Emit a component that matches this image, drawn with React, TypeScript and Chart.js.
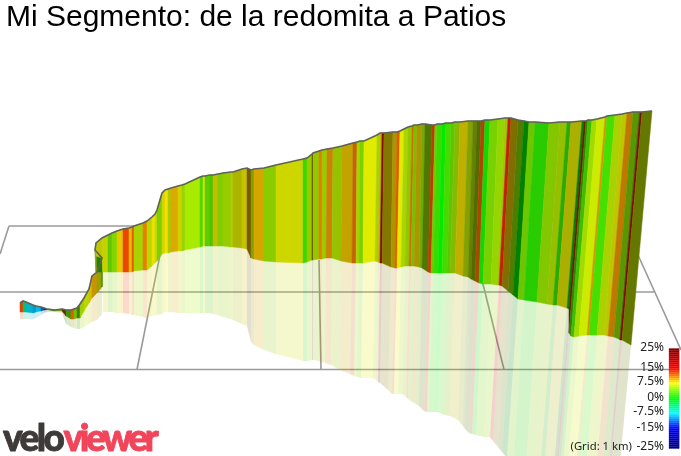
import React, { useEffect, useRef } from "react";
import { Chart, registerables } from "chart.js";

Chart.register(...registerables);

const chartTitle = "Mi Segmento: de la redomita a Patios";

// Profile, one entry per gradient-strip boundary.
const ridgeX = [
  20, 23, 26, 33, 36, 41, 44, 47, 55, 62,
  66, 71, 74, 77, 80, 84, 89, 92, 97, 102,
  102, 95, 96, 102, 102, 108, 112, 117, 123, 129,
  132, 134, 143, 147, 152, 155, 157, 162, 165, 168,
  171, 178, 182, 185, 200, 203, 205, 210, 213, 218,
  223, 231, 233, 242, 247, 251, 254, 264, 276, 303,
  307, 312, 313, 319, 322, 327, 333, 342, 353, 357,
  360, 364, 377, 380, 382, 384, 393, 397, 400, 404,
  408, 412, 414, 417, 422, 425, 432, 435, 437, 442,
  446, 451, 455, 460, 468, 473, 477, 481, 485, 490,
  498, 505, 508, 511, 518, 524, 529, 535, 549, 560,
  567, 571, 582, 584, 586, 588, 592, 597, 605, 607,
  615, 622, 627, 633, 638, 640, 642, 652,
];
const ridgeY = [
  303, 301, 302, 305, 306, 307, 308, 309, 310, 309,
  310, 310, 309, 308, 304, 298, 289, 276, 272, 258,
  258, 250, 243, 238, 238, 235, 233, 231, 229, 228,
  227, 226, 223, 221, 217, 214, 210, 193, 190, 189,
  188, 186, 185, 184, 177, 176, 176, 175, 175, 174,
  173, 172, 172, 169, 168, 170, 169, 168, 165, 159,
  158, 154, 153, 151, 150, 149, 148, 146, 143, 142,
  141, 141, 135, 133, 133, 133, 132, 132, 131, 129,
  127, 126, 125, 125, 124, 124, 125, 125, 124, 124,
  123, 123, 122, 122, 121, 121, 121, 121, 120, 120,
  119, 118, 118, 118, 120, 121, 122, 122, 123, 122,
  122, 122, 121, 121, 121, 120, 120, 119, 117, 116,
  115, 114, 113, 112, 112, 112, 112, 111,
];
const footX = [
  20, 23, 26, 33, 36, 41, 44, 47, 55, 62,
  66, 71, 74, 77, 80, 84, 89, 92, 97, 102,
  102, 96, 96, 102, 103, 108, 112, 117, 123, 129,
  132, 134, 143, 147, 152, 155, 157, 162, 165, 168,
  171, 178, 182, 185, 200, 203, 205, 210, 213, 218,
  223, 231, 233, 242, 247, 251, 254, 264, 276, 303,
  307, 312, 313, 319, 322, 326, 332, 341, 352, 356,
  359, 363, 375, 378, 380, 382, 391, 395, 397, 401,
  405, 409, 411, 414, 419, 422, 428, 431, 433, 438,
  442, 447, 450, 455, 463, 468, 471, 475, 479, 483,
  491, 497, 499, 502, 508, 513, 518, 524, 537, 547,
  553, 557, 567, 569, 569, 571, 574, 579, 587, 589,
  597, 604, 608, 614, 619, 620, 622, 631,
];
const footY = [
  312, 312, 312, 313, 312, 311, 310, 309.5, 311, 311,
  316, 319, 319, 318, 318, 311, 303, 298, 293, 287,
  272, 272, 256, 258, 272, 272, 272, 272, 272, 272,
  272, 271, 270, 270, 266, 263, 261, 254, 253, 253,
  252, 251, 251, 250, 247, 246, 246, 246, 246, 246,
  246, 247, 247, 248, 249, 258, 259, 261, 262, 263,
  262, 260, 260, 259, 259, 258, 258, 261, 263, 263,
  263, 263, 261, 262, 263, 263, 267, 268, 268, 267,
  266, 266, 266, 266, 267, 268, 272, 273, 273, 273,
  273, 273, 273, 273, 276, 277, 279, 281, 283, 284,
  284, 285, 285, 286, 291, 295, 299, 300, 302, 304,
  305, 305, 308, 309, 333, 336, 337, 336, 335, 335,
  335, 335, 336, 337, 339, 340, 340, 345,
];
const mirrorX = [
  20, 23, 26, 33, 36, 41, 44, 47, 55, 62,
  66, 71, 74, 77, 80, 84, 89, 92, 97, 102,
  102, 96, 96, 102, 103, 108, 112, 117, 123, 129,
  132, 134, 143, 147, 152, 155, 157, 162, 165, 168,
  171, 178, 182, 185, 200, 203, 205, 210, 213, 218,
  223, 231, 233, 242, 247, 251, 254, 264, 276, 303,
  307, 312, 313, 319, 322, 325, 331, 340, 350, 354,
  357, 361, 373, 376, 378, 380, 388, 392, 394, 398,
  402, 406, 408, 411, 416, 419, 424, 427, 429, 434,
  438, 442, 445, 450, 458, 463, 465, 469, 472, 476,
  484, 489, 490, 493, 498, 502, 507, 513, 525, 534,
  539, 543, 552, 554, 552, 554, 556, 561, 569, 571,
  579, 586, 589, 595, 600, 601, 602, 610,
];
const mirrorY = [
  319, 319, 319, 319, 318, 315, 313, 312, 312, 313,
  324, 327, 328, 329, 329, 327, 324, 322, 320, 314,
  272, 272, 256, 258, 312, 312, 312, 313, 313, 314,
  315, 315, 317, 318, 316, 315, 315, 314, 312, 312,
  312, 313, 313, 313, 313, 313, 313, 313, 314, 315,
  317, 319, 320, 324, 326, 342, 345, 350, 354, 361,
  361, 360, 360, 361, 362, 363, 365, 370, 374, 376,
  377, 378, 378, 380, 382, 383, 390, 394, 394, 394,
  394, 397, 399, 401, 404, 406, 411, 412, 412, 412,
  412, 414, 415, 416, 420, 426, 429, 433, 434, 435,
  437, 437, 437, 441, 447, 452, 458, 470, 480, 482,
  484, 485, 490, 492, 540, 545, 545, 545, 545, 545,
  550, 550, 552, 555, 560, 560, 562, 570,
];

// One gradient and one lighting value per strip between two boundaries.
const stripGrade = [
  13, -3.75, -8.25, -9.9, -8.5, -11.6, -13.1, 2, 5.3, 12,
  3, 12.1, 4.7, 3.5, 5.7, 6.6, 8.2, 9.4, 7, 0,
  1.7, 7.5, 7.1, 7, 7.1, 3.75, 4.5, 8.5, 12.8, 8.8,
  12.1, 6.1, 10.8, 6.6, 7.8, 6.8, 4.8, 7.3, 8.4, 6.4,
  9.2, 7.5, 5.2, 5.4, 2.8, 7.3, 3.3, 3.1, 7.5, 4.8,
  5.5, 6.6, 7.1, 7.7, 9.4, 6.1, 9.2, 5.1, 7.2, 2.1,
  5.5, 9.75, 5.6, 10.9, 5.5, 10.2, 5.8, 8.7, 11.25, 6.1,
  4.3, 7.2, 6.1, 7.9, 14.4, 8.1, 8.4, 12, 7.2, 5.9,
  5.6, 11.1, 4.7, 8.4, 4.9, 5, 12.6, 4.5, 2, 0,
  2.4, 3.4, 5.3, 8.1, 6.1, 5.8, 5.5, 11.9, 0.7, 4.3,
  5.2, 6, 13.9, 8.7, 4.8, 0, 4.1, 1.5, 4.9, 5.9,
  1.8, 7.3, 0, 13, 2.9, 2.4, 5.5, 6.5, 9.9, 2.3,
  6.1, 7.1, 10.3, 4.5, 3.75, 14.4, 6.25,
];
const stripLight = [
  0.9, 0.78, 0.78, 0.86, 0.86, 0.78, 0.47, 0.59, 0.67, 0.39,
  0.59, 0.9, 0.75, 0.51, 0.82, 0.84, 0.82, 0.78, 0.63, 0.5,
  0.51, 0.67, 0.78, 0.8, 0.82, 0.78, 0.84, 0.9, 0.92, 0.9,
  0.92, 0.82, 0.9, 0.84, 0.92, 0.86, 0.8, 0.84, 0.98, 0.78,
  0.86, 0.82, 0.84, 0.92, 0.84, 0.88, 0.8, 0.76, 0.75, 0.8,
  0.8, 0.8, 0.71, 0.78, 0.47, 0.63, 0.84, 0.8, 0.84, 0.84,
  0.8, 0.39, 0.78, 0.9, 0.8, 0.8, 0.76, 0.76, 0.78, 0.82,
  0.82, 0.92, 0.82, 0.75, 0.51, 0.51, 0.67, 0.88, 0.92, 0.84,
  0.78, 0.82, 0.75, 0.67, 0.67, 0.47, 0.75, 0.78, 0.86, 0.92,
  0.86, 0.78, 0.73, 0.75, 0.63, 0.51, 0.43, 0.67, 0.84, 0.82,
  0.84, 0.78, 0.78, 0.51, 0.49, 0.51, 0.78, 0.8, 0.78, 0.75,
  0.67, 0.69, 0.51, 0.43, 0.51, 0.75, 0.86, 0.92, 0.86, 0.88,
  0.82, 0.78, 0.75, 0.59, 0.55, 0.51, 0.47,
];

// Floor grid, each as [x0, y0, x1, y1].
const gridSegments = [
  [0, 254, 9, 226],
  [9, 226, 165, 226],
  [0, 292, 654, 292],
  [0, 369.5, 672, 369.5],
  [638, 255, 681, 350],
  [137, 369.5, 160, 255],
  [321, 369.5, 319, 260],
  [504, 369.5, 482, 280],
];

const legendGrades = [
  25, 24, 23, 22, 21, 20, 19, 18, 17, 16, 15, 14, 13, 12, 11, 10, 9, 8, 7, 6, 5, 4, 3, 2, 1, 0,
  -1, -2, -3, -4, -5, -6, -7, -8, -9, -10, -11, -12, -13, -14, -15, -16, -17, -18, -19, -20, -21, -22, -23, -24,
];
const legendLabels = ["25%", "15%", "7.5%", "0%", "-7.5%", "-15%", "-25%"];
const legendLabelY = [347.5, 368, 382, 397.5, 412, 427.5, 447];
const gridNote = "(Grid: 1 km)";
const logoParts = ["velo", "viewer"];

const colourStops: [number, number, number, number][] = [
  [25, 128, 0, 0],
  [15, 255, 0, 0],
  [7.5, 255, 255, 0],
  [0, 0, 255, 0],
  [-7.5, 0, 255, 255],
  [-15, 0, 0, 255],
  [-25, 0, 0, 128],
];

function gradeColour(grade: number, light = 1, alpha = 1) {
  for (let i = 0; i < colourStops.length - 1; i++) {
    const a = colourStops[i];
    const b = colourStops[i + 1];
    if (grade <= a[0] && grade >= b[0]) {
      const t = (a[0] - grade) / (a[0] - b[0]);
      const c = [1, 2, 3].map((k) => Math.round((a[k] + (b[k] - a[k]) * t) * light));
      return `rgba(${c[0]},${c[1]},${c[2]},${alpha})`;
    }
  }
  return "#000";
}

function shape(points: { x: number; y: number }[], colour: string, border: number, order: number) {
  return {
    type: "scatter",
    showLine: true,
    data: [...points, points[0]],
    fill: "shape",
    backgroundColor: colour,
    borderColor: colour,
    borderWidth: border,
    pointRadius: 0,
    tension: 0,
    clip: false,
    order,
  };
}

function buildDatasets() {
  const layers: any[] = [];
  for (const [x0, y0, x1, y1] of gridSegments) {
    layers.push({
      type: "scatter",
      showLine: true,
      data: [{ x: x0, y: y0 }, { x: x1, y: y1 }],
      borderColor: "#9a9a9a",
      borderWidth: 1.6,
      pointRadius: 0,
      clip: false,
    });
  }
  stripGrade.forEach((g, i) => {
    layers.push(
      shape(
        [
          { x: footX[i], y: footY[i] },
          { x: footX[i + 1], y: footY[i + 1] },
          { x: mirrorX[i + 1], y: mirrorY[i + 1] },
          { x: mirrorX[i], y: mirrorY[i] },
        ],
        gradeColour(g, stripLight[i], 0.2),
        0,
        0
      )
    );
  });
  stripGrade.forEach((g, i) => {
    layers.push(
      shape(
        [
          { x: ridgeX[i], y: ridgeY[i] },
          { x: ridgeX[i + 1], y: ridgeY[i + 1] },
          { x: footX[i + 1], y: footY[i + 1] },
          { x: footX[i], y: footY[i] },
        ],
        gradeColour(g, stripLight[i]),
        0.5,
        0
      )
    );
  });
  layers.push({
    type: "scatter",
    showLine: true,
    data: ridgeX.map((x, i) => ({ x, y: ridgeY[i] })),
    borderColor: "#5f625a",
    borderWidth: 1.6,
    pointRadius: 0,
    tension: 0,
    clip: false,
  });
  legendGrades.forEach((g) => {
    const top = 398.5 - 2 * g;
    layers.push(
      shape(
        [
          { x: 669, y: top },
          { x: 679, y: top },
          { x: 679, y: top + 2 },
          { x: 669, y: top + 2 },
        ],
        gradeColour(g - 0.5),
        0.3,
        0
      )
    );
  });
  layers.forEach((d, i) => {
    d.order = layers.length - i;
  });
  return layers;
}

const textPlugin = {
  id: "chartText",
  afterDraw(chart: any) {
    const { ctx, scales } = chart;
    const px = (v: number) => scales.x.getPixelForValue(v);
    const py = (v: number) => scales.y.getPixelForValue(v);
    ctx.save();
    ctx.fillStyle = "#222";
    ctx.font = '12px "Noto Sans"';
    ctx.textAlign = "right";
    ctx.textBaseline = "middle";
    legendLabels.forEach((t, i) => ctx.fillText(t, px(664), py(legendLabelY[i])));
    ctx.font = '11.3px "Noto Sans"';
    ctx.fillText(gridNote, px(632), py(447));

    ctx.textAlign = "left";
    ctx.textBaseline = "alphabetic";
    ctx.font = '900 37px Lato';
    ctx.lineJoin = "round";
    ctx.lineWidth = 0.8;
    (ctx as any).letterSpacing = "-2.6px";
    ctx.fillStyle = "#3e3a38";
    ctx.strokeStyle = "#3e3a38";
    ctx.fillText(logoParts[0], px(3), py(451));
    ctx.strokeText(logoParts[0], px(3), py(451));
    (ctx as any).letterSpacing = "-3.4px";
    ctx.fillStyle = "#f1455b";
    ctx.strokeStyle = "#f1455b";
    ctx.fillText(logoParts[1], px(63.5), py(451));
    ctx.strokeText(logoParts[1], px(63.5), py(451));
    ctx.restore();
  },
};

export default function App() {
  const ref = useRef<HTMLCanvasElement>(null);
  useEffect(() => {
    const chart = new Chart(ref.current as HTMLCanvasElement, {
      type: "scatter",
      data: { datasets: buildDatasets() as any },
      plugins: [textPlugin],
      options: {
        responsive: false,
        animation: false,
        events: [],
        layout: { padding: { left: 6, right: 0, top: 0, bottom: 0 } },
        plugins: {
          legend: { display: false },
          tooltip: { enabled: false },
          title: {
            display: true,
            text: chartTitle,
            align: "start",
            color: "#000",
            font: { family: '"Liberation Sans"', size: 30, weight: "normal", lineHeight: 1.2 },
            padding: { top: 0, bottom: 0 },
          },
        },
        scales: {
          x: { type: "linear", display: false, min: 6, max: 681 },
          y: { type: "linear", display: false, reverse: true, min: 36, max: 456 },
        },
      } as any,
    });
    return () => chart.destroy();
  }, []);
  return (
    <canvas
      ref={ref}
      width={681}
      height={456}
      style={{ position: "absolute", left: 0, top: 0, width: 681, height: 456 }}
    />
  );
}
